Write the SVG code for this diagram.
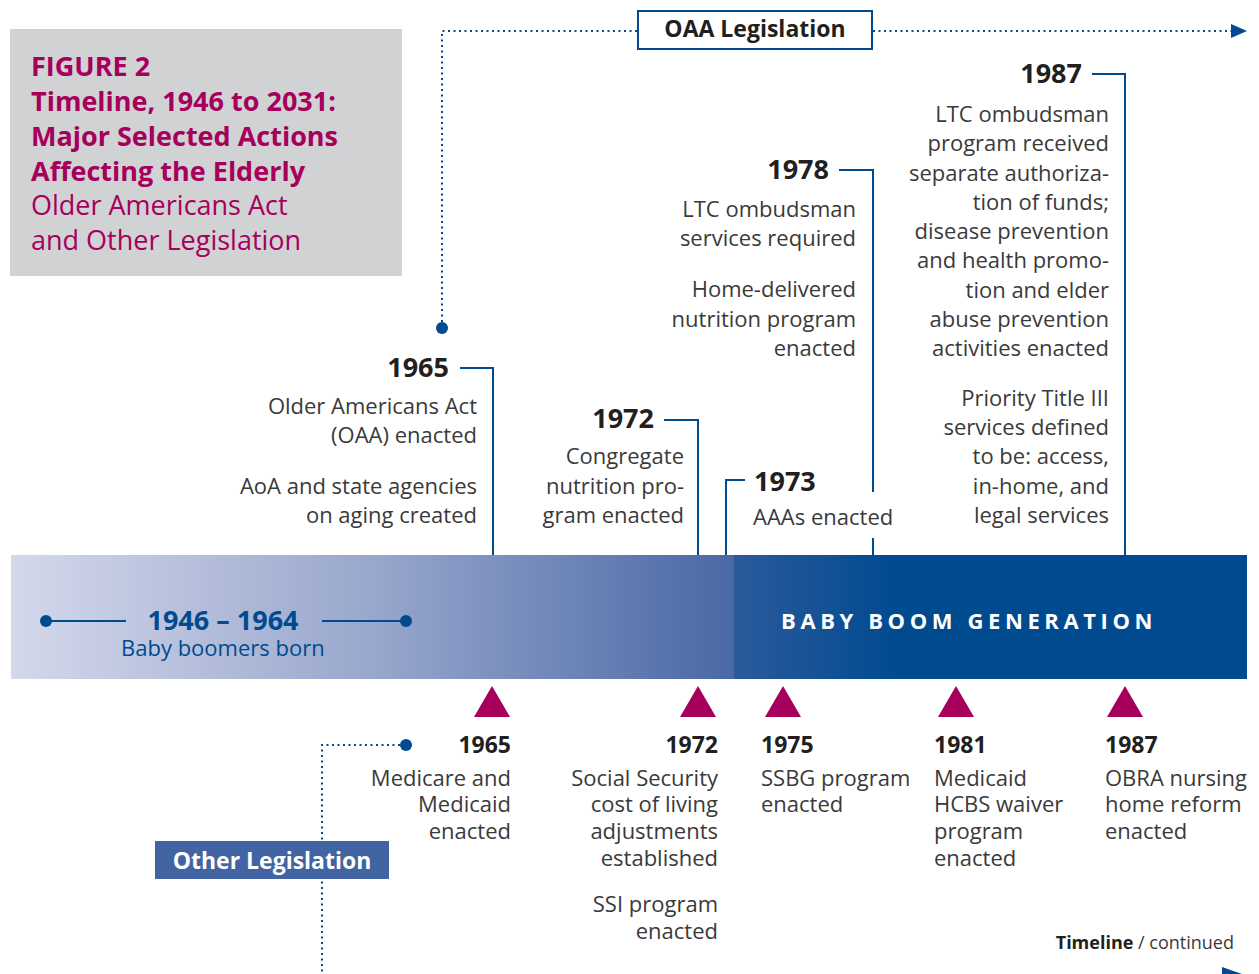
<svg xmlns="http://www.w3.org/2000/svg" width="1259" height="974" viewBox="0 0 1259 974">
<defs>
<linearGradient id="gL" x1="11" y1="0" x2="734" y2="0" gradientUnits="userSpaceOnUse">
<stop offset="0" stop-color="#d4d8eb"/>
<stop offset="0.5" stop-color="#98a7cc"/>
<stop offset="1" stop-color="#4a68a6"/>
</linearGradient>
<linearGradient id="gR" x1="734" y1="0" x2="900" y2="0" gradientUnits="userSpaceOnUse">
<stop offset="0" stop-color="#2b5a9b"/>
<stop offset="1" stop-color="#004a90"/>
</linearGradient>
<marker id="arr" markerWidth="16" markerHeight="14" refX="2" refY="7" orient="auto" markerUnits="userSpaceOnUse">
<path d="M0,0 L16,7 L0,14 Z" fill="#004a8f"/>
</marker>
</defs>
<style>
text{font-family:"Open Sans","Noto Sans",sans-serif;}
.yr{font-size:27px;font-weight:bold;fill:#231f20;}
.yb{font-size:23px;font-weight:bold;fill:#231f20;}
.bd{font-size:22px;fill:#3a3a3a;}
.r{text-anchor:end;}
.ln{fill:none;stroke:#004a8f;stroke-width:2;}
.dot{fill:none;stroke:#004a8f;stroke-width:2;stroke-dasharray:2 3.5;}
.tri{fill:#a6005c;}
.ttl{fill:#a6005c;font-size:27px;}
</style>

<g id="title">
<rect x="10" y="29" width="392" height="247" fill="#d1d2d4"/>
<text class="ttl" x="31" y="76" font-weight="bold">FIGURE 2</text>
<text class="ttl" x="31" y="111" font-weight="bold">Timeline, 1946 to 2031:</text>
<text class="ttl" x="31" y="146" font-weight="bold">Major Selected Actions</text>
<text class="ttl" x="31" y="181" font-weight="bold">Affecting the Elderly</text>
<text class="ttl" x="31" y="215">Older Americans Act</text>
<text class="ttl" x="31" y="250">and Other Legislation</text>
</g>

<g id="bar">
<rect x="11" y="555" width="724" height="124" fill="url(#gL)"/>
<rect x="734" y="555" width="513" height="124" fill="url(#gR)"/>
<text x="781" y="629" font-size="22" font-weight="bold" fill="#ffffff" letter-spacing="4.6">BABY BOOM GENERATION</text>
</g>

<g id="boomers">
<line class="ln" x1="46" y1="621" x2="126" y2="621"/>
<line class="ln" x1="322" y1="621" x2="406" y2="621"/>
<circle cx="46" cy="621" r="6" fill="#004a8f"/>
<circle cx="406" cy="621" r="6" fill="#004a8f"/>
<text x="223" y="630" text-anchor="middle" font-size="27" font-weight="bold" fill="#004a8f">1946 – 1964</text>
<text x="121" y="656" font-size="22" fill="#004a8f">Baby boomers born</text>
</g>

<g id="connectors">
<polyline class="dot" points="442,322 442,31 637,31"/>
<line class="dot" x1="873" y1="31" x2="1233" y2="31" marker-end="url(#arr)"/>
<circle cx="442" cy="328" r="6" fill="#004a8f"/>
<polyline class="ln" points="460,368 493,368 493,555"/>
<polyline class="ln" points="664,420 698,420 698,555"/>
<polyline class="ln" points="745,480 726,480 726,555"/>
<polyline class="ln" points="839,170 873,170 873,492"/>
<line class="ln" x1="873" y1="538" x2="873" y2="555"/>
<polyline class="ln" points="1092,74 1125,74 1125,555"/>
<polyline class="dot" points="400,745 322,745 322,974"/>
<circle cx="406" cy="745" r="6" fill="#004a8f"/>
<path d="M1222,967 L1242,974 L1222,981 Z" fill="#004a8f"/>
</g>

<g id="oaa">
<rect x="638" y="11" width="234" height="38" fill="#ffffff" stroke="#004a8f" stroke-width="2"/>
<text x="755" y="37" text-anchor="middle" font-size="23" font-weight="bold" fill="#231f20">OAA Legislation</text>
</g>

<g id="other">
<rect x="155" y="841" width="234" height="38" fill="#4264a3"/>
<text x="272" y="869" text-anchor="middle" font-size="23" font-weight="bold" fill="#ffffff">Other Legislation</text>
</g>

<g id="oaa1965">
<text class="yr r" x="449" y="377">1965</text>
<text class="bd r" x="477" y="414">Older Americans Act</text>
<text class="bd r" x="477" y="443">(OAA) enacted</text>
<text class="bd r" x="477" y="494">AoA and state agencies</text>
<text class="bd r" x="477" y="523">on aging created</text>
</g>

<g id="oaa1972">
<text class="yr r" x="654" y="428">1972</text>
<text class="bd r" x="684" y="464">Congregate</text>
<text class="bd r" x="684" y="494">nutrition pro-</text>
<text class="bd r" x="684" y="523">gram enacted</text>
</g>

<g id="oaa1973">
<text class="yr" x="754" y="491">1973</text>
<text class="bd" x="753" y="525">AAAs enacted</text>
</g>

<g id="oaa1978">
<text class="yr r" x="829" y="179">1978</text>
<text class="bd r" x="856" y="217">LTC ombudsman</text>
<text class="bd r" x="856" y="246">services required</text>
<text class="bd r" x="856" y="297">Home-delivered</text>
<text class="bd r" x="856" y="327">nutrition program</text>
<text class="bd r" x="856" y="356">enacted</text>
</g>

<g id="oaa1987">
<text class="yr r" x="1082" y="83">1987</text>
<text class="bd r" x="1109" y="122">LTC ombudsman</text>
<text class="bd r" x="1109" y="151">program received</text>
<text class="bd r" x="1109" y="181">separate authoriza-</text>
<text class="bd r" x="1109" y="210">tion of funds;</text>
<text class="bd r" x="1109" y="239">disease prevention</text>
<text class="bd r" x="1109" y="268">and health promo-</text>
<text class="bd r" x="1109" y="298">tion and elder</text>
<text class="bd r" x="1109" y="327">abuse prevention</text>
<text class="bd r" x="1109" y="356">activities enacted</text>
<text class="bd r" x="1109" y="406">Priority Title III</text>
<text class="bd r" x="1109" y="435">services defined</text>
<text class="bd r" x="1109" y="464">to be: access,</text>
<text class="bd r" x="1109" y="494">in-home, and</text>
<text class="bd r" x="1109" y="523">legal services</text>
</g>

<g id="other1965">
<polygon class="tri" points="492,686 510,717 474,717"/>
<text class="yb r" x="511" y="753">1965</text>
<text class="bd r" x="511" y="786">Medicare and</text>
<text class="bd r" x="511" y="812">Medicaid</text>
<text class="bd r" x="511" y="839">enacted</text>
</g>

<g id="other1972">
<polygon class="tri" points="698,686 716,717 680,717"/>
<text class="yb r" x="718" y="753">1972</text>
<text class="bd r" x="718" y="786">Social Security</text>
<text class="bd r" x="718" y="812">cost of living</text>
<text class="bd r" x="718" y="839">adjustments</text>
<text class="bd r" x="718" y="866">established</text>
<text class="bd r" x="718" y="912">SSI program</text>
<text class="bd r" x="718" y="939">enacted</text>
</g>

<g id="other1975">
<polygon class="tri" points="783,686 801,717 765,717"/>
<text class="yb" x="761" y="753">1975</text>
<text class="bd" x="761" y="786">SSBG program</text>
<text class="bd" x="761" y="812">enacted</text>
</g>

<g id="other1981">
<polygon class="tri" points="956,686 974,717 938,717"/>
<text class="yb" x="934" y="753">1981</text>
<text class="bd" x="934" y="786">Medicaid</text>
<text class="bd" x="934" y="812">HCBS waiver</text>
<text class="bd" x="934" y="839">program</text>
<text class="bd" x="934" y="866">enacted</text>
</g>

<g id="other1987">
<polygon class="tri" points="1125,686 1143,717 1107,717"/>
<text class="yb" x="1105" y="753">1987</text>
<text class="bd" x="1105" y="786">OBRA nursing</text>
<text class="bd" x="1105" y="812">home reform</text>
<text class="bd" x="1105" y="839">enacted</text>
</g>

<g id="footer">
<text x="1234" y="949" text-anchor="end" font-size="18" fill="#3a3a3a"><tspan font-weight="bold" fill="#231f20">Timeline</tspan> / continued</text>
</g>
</svg>
